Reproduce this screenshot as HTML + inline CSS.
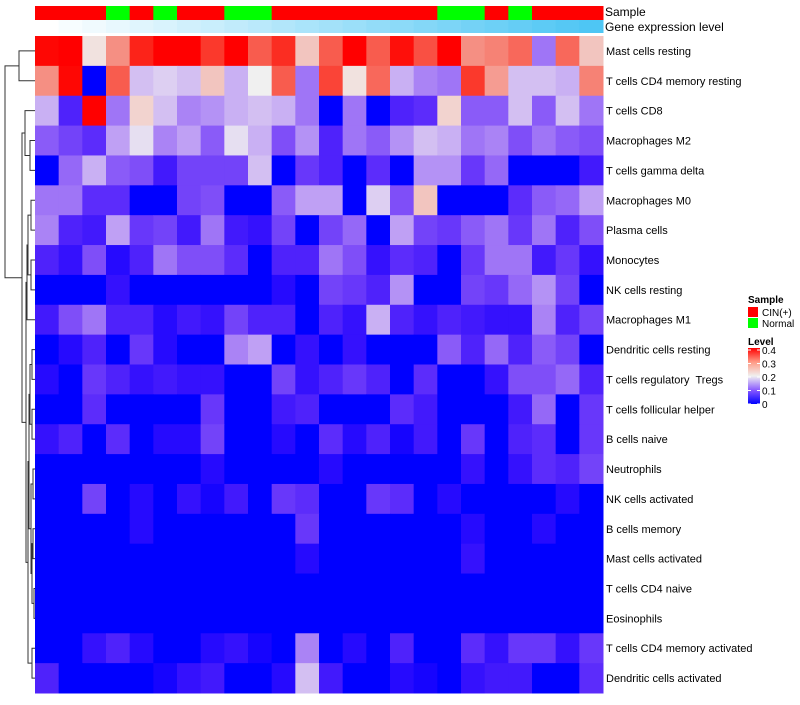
<!DOCTYPE html>
<html><head><meta charset="utf-8"><style>
body{margin:0;background:#fff;width:800px;height:700px;overflow:hidden;font-family:"Liberation Sans",sans-serif}
text{white-space:pre}
</style></head><body>
<svg id="chart" width="800" height="700" xmlns="http://www.w3.org/2000/svg" style="font-family:'Liberation Sans',sans-serif">
<g id="dendro" stroke="#333" stroke-width="1" fill="none"></g>
<g id="cells"></g>
<g id="annot"></g>
<g id="labels" font-size="11" fill="#000"></g>
<text x="605" y="16" font-size="12">Sample</text>
<text x="605" y="31" font-size="12">Gene expression level</text>
<g font-size="10">
<text x="748" y="303" font-weight="bold">Sample</text>
<rect x="748" y="307" width="10" height="10" fill="#ff0000"/>
<text x="762" y="316">CIN(+)</text>
<rect x="748" y="318" width="10" height="10" fill="#00ff00"/>
<text x="762" y="327">Normal</text>
<text x="748" y="345" font-weight="bold">Level</text>
<defs><linearGradient id="lg" x1="0" y1="1" x2="0" y2="0"><stop offset="0" stop-color="#0000ff"/><stop offset="0.25" stop-color="#8a5bff"/><stop offset="0.5" stop-color="#f0f0f0"/><stop offset="0.75" stop-color="#ff9a85"/><stop offset="1" stop-color="#ff0000"/></linearGradient></defs>
<rect x="748" y="348" width="12" height="56" fill="url(#lg)"/>
<g id="lticks"></g>
</g>
</svg>
<script>
const rowNames=["Mast cells resting","T cells CD4 memory resting","T cells CD8","Macrophages M2","T cells gamma delta","Macrophages M0","Plasma cells","Monocytes","NK cells resting","Macrophages M1","Dendritic cells resting","T cells regulatory  Tregs","T cells follicular helper","B cells naive","Neutrophils","NK cells activated","B cells memory","Mast cells activated","T cells CD4 naive","Eosinophils","T cells CD4 memory activated","Dendritic cells activated"];
const sampleGroups=["CIN(+)","CIN(+)","CIN(+)","Normal","CIN(+)","Normal","CIN(+)","CIN(+)","Normal","Normal","CIN(+)","CIN(+)","CIN(+)","CIN(+)","CIN(+)","CIN(+)","CIN(+)","Normal","Normal","CIN(+)","Normal","CIN(+)","CIN(+)","CIN(+)"];
const levelTicks=[0,0.1,0.2,0.3,0.4];
const r0=[0.39,0.4,0.21,0.27,0.36,0.4,0.4,0.34,0.4,0.31,0.35,0.23,0.31,0.4,0.31,0.38,0.32,0.4,0.27,0.28,0.3,0.12,0.3,0.23];
const r1=[0.27,0.39,0,0.31,0.17,0.18,0.17,0.23,0.16,0.2,0.31,0.12,0.33,0.21,0.3,0.16,0.13,0.12,0.34,0.26,0.17,0.17,0.16,0.28];
const r2=[0.16,0.05,0.4,0.12,0.22,0.17,0.13,0.14,0.16,0.17,0.16,0.12,0,0.12,0,0.05,0.06,0.22,0.1,0.1,0.17,0.1,0.17,0.12];
const r3=[0.1,0.08,0.06,0.15,0.19,0.13,0.15,0.1,0.19,0.16,0.09,0.14,0.05,0.12,0.1,0.14,0.17,0.16,0.12,0.13,0.09,0.12,0.1,0.09];
const r4=[0,0.11,0.16,0.1,0.09,0.04,0.08,0.08,0.08,0.17,0,0.07,0.05,0,0.06,0,0.14,0.14,0.07,0.11,0,0,0,0.04];
const r5=[0.12,0.12,0.06,0.06,0,0,0.08,0.09,0,0,0.1,0.15,0.15,0,0.18,0.09,0.23,0,0,0,0.06,0.1,0.11,0.15];
const r6=[0.13,0.05,0.04,0.15,0.07,0.08,0.04,0.12,0.04,0.03,0.08,0,0.08,0.11,0,0.15,0.08,0.07,0.1,0.12,0.07,0.12,0.05,0.09];
const r7=[0.05,0.03,0.09,0.02,0.05,0.12,0.09,0.09,0.06,0,0.05,0.05,0.12,0.09,0.03,0.06,0.05,0,0.07,0.12,0.12,0.04,0.07,0.03];
const r8=[0,0,0,0.03,0,0,0,0,0,0,0.02,0,0.08,0.07,0.05,0.14,0,0,0.08,0.07,0.11,0.14,0.08,0];
const r9=[0.04,0.09,0.12,0.05,0.05,0.02,0.04,0.03,0.08,0.05,0.05,0,0.05,0.03,0.16,0.05,0.03,0.05,0.04,0.03,0.03,0.13,0.05,0.08];
const r10=[0,0.02,0.05,0,0.07,0.02,0,0,0.13,0.15,0,0.03,0,0.03,0,0,0,0.1,0.05,0.11,0.05,0.1,0.08,0];
const r11=[0.02,0,0.07,0.05,0.03,0.04,0.03,0.03,0,0,0.08,0.03,0.05,0.07,0.05,0,0.06,0,0,0.03,0.09,0.09,0.11,0.05];
const r12=[0,0,0.06,0,0,0,0,0.07,0,0,0.04,0.05,0,0,0,0.06,0.04,0,0,0,0.04,0.11,0,0.07];
const r13=[0.03,0.05,0,0.06,0,0.02,0.02,0.08,0,0,0.02,0,0.06,0.02,0.05,0.01,0.04,0,0.07,0,0.05,0.06,0,0.07];
const r14=[0,0,0,0,0,0,0,0.02,0,0,0,0,0.02,0,0,0,0,0,0.03,0,0.03,0.06,0.05,0.08];
const r15=[0,0,0.08,0,0.02,0,0.03,0.01,0.04,0,0.07,0.06,0,0,0.07,0.06,0,0.02,0,0,0,0,0.02,0];
const r16=[0,0,0,0,0.02,0,0,0,0,0,0,0.07,0,0,0,0,0,0,0.02,0,0,0.02,0,0];
const r17=[0,0,0,0,0,0,0,0,0,0,0,0.02,0,0,0,0,0,0,0.03,0,0,0,0,0];
const r18=[0,0,0,0,0,0,0,0,0,0,0,0,0,0,0,0,0,0,0,0,0,0,0,0];
const r19=[0,0,0,0,0,0,0,0,0,0,0,0,0,0,0,0,0,0,0,0,0,0,0,0];
const r20=[0,0,0.03,0.05,0.02,0,0,0.02,0.03,0.01,0,0.13,0,0.02,0,0.05,0,0,0.06,0.03,0.07,0.07,0.03,0.07];
const r21=[0.05,0,0,0,0,0.01,0.03,0.04,0,0,0.02,0.17,0.04,0,0,0.02,0.01,0,0.03,0.04,0.04,0,0,0.06];
const values=[r0,r1,r2,r3,r4,r5,r6,r7,r8,r9,r10,r11,r12,r13,r14,r15,r16,r17,r18,r19,r20,r21];

const NS="http://www.w3.org/2000/svg";
const X0=35,X1=603,Y0=36,Y1=693;
const nC=sampleGroups.length,nR=rowNames.length;
const cw=(X1-X0)/nC,rh=(Y1-Y0)/nR;
const xPos=c=>X0+c*cw, yPos=r=>Y0+r*rh;
function colorOf(v){
  const t=Math.max(0,Math.min(1,v/0.4));
  let r,g,b;
  if(t<0.5){const k=t/0.5;r=240*Math.pow(k,0.8);g=240*Math.pow(k,1.4);b=255-15*k;}
  else{const k=(t-0.5)/0.5;r=240+15*k;g=240*Math.pow(1-k,1.2);b=240*Math.pow(1-k,1.4);}
  return `rgb(${Math.round(r)},${Math.round(g)},${Math.round(b)})`;
}
function mk(tag,attrs,parent){const e=document.createElementNS(NS,tag);for(const k in attrs)e.setAttribute(k,attrs[k]);parent.appendChild(e);return e;}
const cells=document.getElementById('cells');
values.forEach((row,r)=>row.forEach((v,c)=>{
  const e=mk('rect',{x:xPos(c),y:yPos(r),width:cw+0.5,height:rh+0.5,fill:colorOf(v)},cells);
  
  
}));
const annot=document.getElementById('annot');
sampleGroups.forEach((g,c)=>{
  const e=mk('rect',{x:xPos(c),y:6,width:cw+0.5,height:14,fill:g==="Normal"?"#00ff00":"#ff0000"},annot);
  
  
  const t=c/(nC-1);
  const e2=mk('rect',{x:xPos(c),y:20,width:cw+0.5,height:13,fill:`rgb(${Math.round(255-177*t)},${Math.round(255-57*t)},${Math.round(255-11*t)})`},annot);
  
  
});
const labels=document.getElementById('labels');
rowNames.forEach((n,r)=>{
  const e=mk('text',{x:606,y:yPos(r)+rh/2+4},labels);e.textContent=n;
  
  
});
const lt=document.getElementById('lticks');
levelTicks.forEach(v=>{
  const y=404-(v/0.4)*54;
  mk('line',{x1:748,x2:751,y1:y,y2:y,stroke:"#fff"},lt);
  mk('line',{x1:757,x2:760,y1:y,y2:y,stroke:"#fff"},lt);
  const e=mk('text',{x:762,y:y+4,'font-size':10},lt);e.textContent=String(v);
  
  
});
const d=document.getElementById('dendro');
const yc=r=>yPos(r)+rh/2;
function join(x,ya,yb,xa,xb){mk('path',{d:`M${xa},${ya}H${x}V${yb}H${xb}`},d);return (ya+yb)/2;}
const a=join(19,yc(0),yc(1),35,35);
const b34=join(30,yc(3),yc(4),35,35);
const b2=join(25,yc(2),b34,35,30);
const c56=join(31,yc(5),yc(6),35,35);
const c78=join(31,yc(7),yc(8),35,35);
const c58=join(28,c56,c78,31,31);
const c9=join(27,c58,yc(9),28,35);
const c1011=join(32,yc(10),yc(11),35,35);
const c1213=join(32,yc(12),yc(13),35,35);
const c1014=join(30,c1011,c1213,32,32);
const c15=join(33,yc(14),yc(15),35,35);
const c16=join(33,yc(16),yc(17),35,35);
const c18=join(34,yc(18),yc(19),35,35);
const c1619=join(32,c16,c18,33,34);
const c1419=join(31,c15,c1619,33,32);
const c1019=join(29,c1014,c1419,30,31);
const c2021=join(32,yc(20),yc(21),35,35);
const clow=join(28,c1019,c2021,29,32);
const cmid=join(26,c9,clow,27,28);
const cb=join(22,b2,cmid,25,26);
join(5,a,cb,19,22);
</script>
</body></html>
